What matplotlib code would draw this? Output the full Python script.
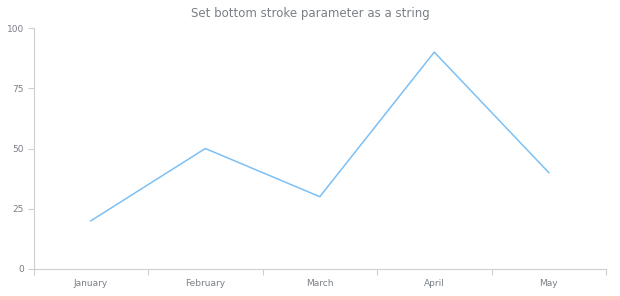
import matplotlib

matplotlib.use("Agg")
import matplotlib.pyplot as plt
from matplotlib.patches import Rectangle

months = ["January", "February", "March", "April", "May"]
values = [20, 50, 30, 90, 40]
y_ticks = [0, 25, 50, 75, 100]

W, H = 620, 300
fig = plt.figure(figsize=(W / 100, H / 100), dpi=100)
# axes box in pixel coordinates: left 33.6, right 606, top 28, bottom 269
ax = fig.add_axes([33.6 / W, (H - 269) / H, (606 - 33.6) / W, (269 - 28) / H])

x = list(range(len(months)))
ax.plot(x, values, color="#7cc0f5", lw=1.1)

ax.set_xlim(-0.5, len(months) - 0.5)
ax.set_ylim(0, 100)
ax.set_yticks(y_ticks)
ax.set_xticks(x)
ax.set_xticklabels(months)
# tick marks sit on category boundaries
ax.set_xticks([i - 0.5 for i in range(len(months) + 1)], minor=True)
ax.tick_params(axis="x", which="major", length=0, pad=7)
ax.tick_params(axis="x", which="minor", length=4, width=0.8, color="#cfcfcf")
ax.tick_params(axis="y", length=4, width=0.8, color="#cfcfcf", pad=3)
ax.tick_params(labelsize=6.5, labelcolor="#7a7f87")

for side in ("top", "right"):
    ax.spines[side].set_visible(False)
for side in ("left", "bottom"):
    ax.spines[side].set_color("#cfcfcf")
    ax.spines[side].set_linewidth(0.8)

fig.text(0.5, 1 - 14 / H, "Set bottom stroke parameter as a string",
         ha="center", va="center", fontsize=8.5, color="#7a7f87")

# the bottom stroke of the chart background
fig.patches.append(Rectangle((0, 0), 1, 4.5 / H, transform=fig.transFigure,
                             facecolor="#ffcdc8", edgecolor="none"))

fig.savefig("out.png", dpi=100, facecolor="white")
